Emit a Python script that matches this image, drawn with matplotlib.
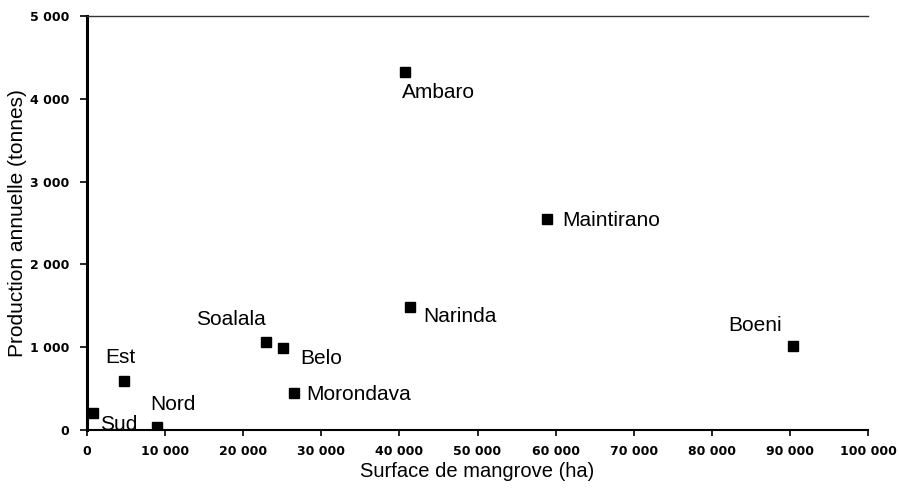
import numpy as np
import matplotlib.pyplot as plt
from matplotlib.ticker import FuncFormatter

plt.rcParams['font.family'] = ['Liberation Sans', 'DejaVu Sans']

# data
names = ['Sud', 'Est', 'Nord', 'Soalala', 'Belo', 'Morondava',
         'Narinda', 'Ambaro', 'Maintirano', 'Boeni']
surface = [770, 4740, 8960, 22900, 25100, 26500, 41350, 40700, 58900, 90400]
production = [205, 590, 35, 1063, 990, 447, 1485, 4324, 2548, 1014]

# label offsets (pixels) and alignment
offsets = [(7, -11, 'left'), (-4, 24, 'center'), (-7, 23, 'left'),
           (0, 22, 'right'), (17, -10, 'left'), (12, -2, 'left'),
           (13, -9, 'left'), (-3, -21, 'left'), (15, -1, 'left'),
           (-11, 21, 'right')]

fig = plt.figure(figsize=(8.99, 4.88), dpi=100)
ax = fig.add_axes([0.0968, 0.1189, 0.8687, 0.8483])

ax.plot(surface, production, 's', color='black', markersize=7.5, linestyle='none')

for n, x, y, (dx, dy, ha) in zip(names, surface, production, offsets):
    ax.annotate(n, (x, y), xytext=(dx, dy), textcoords='offset pixels',
                ha=ha, va='center', fontsize=15)

ax.set_xlim(0, 100000)
ax.set_ylim(0, 5000)
ax.set_xticks(np.arange(0, 100001, 10000))
ax.set_yticks(np.arange(0, 5001, 1000))

fmt = FuncFormatter(lambda v, p: f'{int(v):,}'.replace(',', ' '))
ax.xaxis.set_major_formatter(fmt)
ax.yaxis.set_major_formatter(fmt)
for lab in ax.get_xticklabels() + ax.get_yticklabels():
    lab.set_fontweight('bold')
    lab.set_fontsize(9)
    lab.set_family('DejaVu Sans')

ax.tick_params(axis='x', direction='out', length=4, width=1.2, pad=7)
ax.tick_params(axis='y', direction='out', length=5, width=1.2, pad=8)
ax.spines['left'].set_linewidth(2.2)
ax.spines['bottom'].set_linewidth(1.5)
ax.spines['top'].set_linewidth(1)
ax.spines['top'].set_color('#333333')
ax.spines['right'].set_visible(False)

ax.set_xlabel('Surface de mangrove (ha)', fontsize=14.5, labelpad=3)
ax.set_ylabel('Production annuelle (tonnes)', fontsize=15, labelpad=2)

fig.savefig('out.png', dpi=100)
